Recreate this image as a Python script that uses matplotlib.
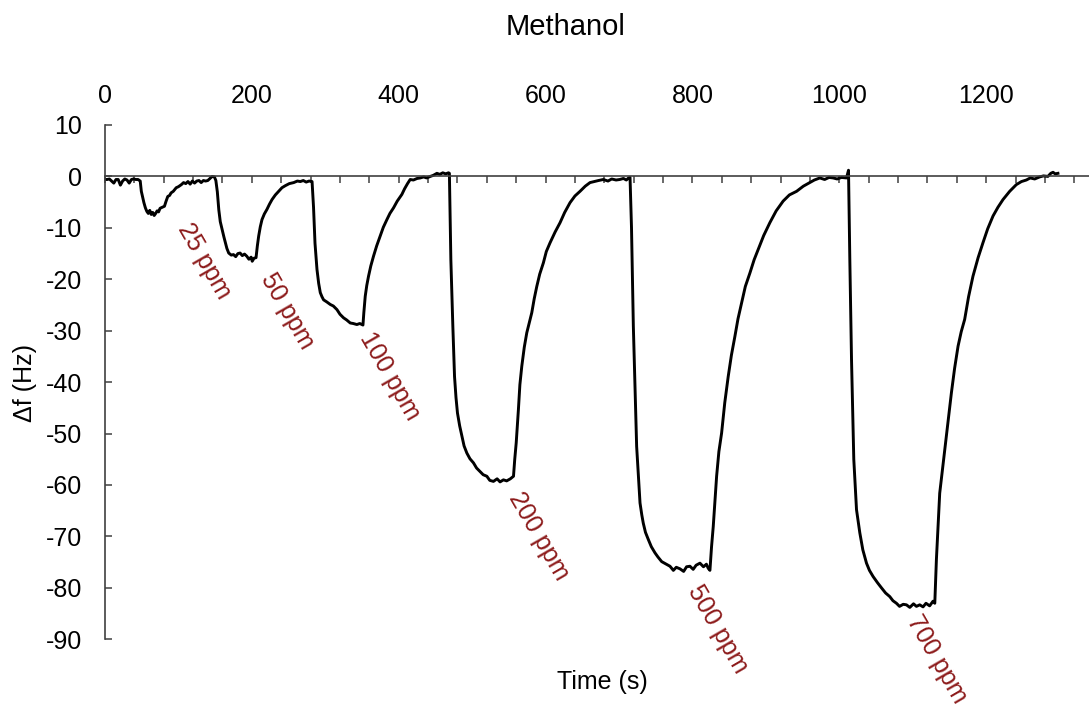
import matplotlib
matplotlib.use('Agg')
from matplotlib import pyplot as plt
from matplotlib.ticker import MultipleLocator

plt.rcParams['font.family'] = ['Liberation Sans', 'DejaVu Sans']
plt.rcParams['axes.unicode_minus'] = False

# QCM response to methanol pulses: time (s) and frequency shift (Hz)
time_s = [
    0, 3, 6, 9, 12, 15, 18, 21, 24, 27, 30, 33, 36, 39, 42, 45, 48,
    49.5, 53, 55, 57, 59, 61, 63, 65, 67, 69, 71, 73, 75, 78, 81, 83, 85.5,
    88, 90, 93, 97, 100, 104, 107, 110, 113, 116, 119, 122, 125, 128, 131,
    134, 137, 140, 143, 146, 149, 151,
    153, 155, 157, 159.5, 162, 164, 166, 168.5, 172, 175, 178, 181, 184, 187,
    190, 193, 196, 199, 200.5, 203, 205.7, 207.5, 209.3, 211.5, 213.8, 217,
    220.6, 224, 227.5, 232, 236.5, 241, 245.6, 251, 257, 262, 266, 270, 274,
    278, 282,
    284, 286, 288.7, 291, 293.2, 295.5, 297.7, 302, 306.8, 311, 315.9, 320,
    324.9, 329, 334, 338, 343, 347, 351.3, 352.5, 354.4, 356.5, 358.9, 362,
    365.7, 370, 374.8, 379, 383.9, 388, 393, 398, 404.3, 408, 412, 415.6, 420,
    425, 429.3, 434, 438, 443, 447, 452, 456, 460, 464, 467.8, 469,
    471, 473.7, 476, 478, 480, 483, 486, 489, 492.8, 497, 501.8, 506, 510.9,
    515, 520, 524, 529, 534, 538, 542.6, 547, 552, 556.3, 558, 560, 563, 565,
    567.6, 571, 574.4, 578, 581.2, 584.5, 588, 592, 597, 601, 606.1, 613,
    619.7, 626, 633.3, 640, 646.9, 654, 660.5, 666, 672, 678.6, 685, 690, 696,
    701, 706, 710, 713, 715,
    717, 719.5, 722, 724, 726.3, 728.6, 731, 733, 736, 739.9, 744, 749, 753,
    758.1, 763, 769.4, 774, 778, 783, 788, 792, 796.6, 801, 805, 810.2, 815,
    819, 821.5, 823.8,
    826, 828.3, 832.9, 836, 839.7, 844, 848.7, 853, 857.8, 862, 866.9, 872,
    878.2, 884, 889.5, 897, 905.4, 914, 923.5, 932, 941.8, 951, 959.9, 966,
    973.5, 980, 986, 991.6, 997, 1003, 1009.8, 1012.5,
    1014.3, 1016.6, 1019.7, 1023.4, 1027.9, 1032, 1037, 1041, 1046, 1052,
    1057.4, 1063, 1068.7, 1073, 1077.8, 1082, 1087, 1091.4, 1096, 1101, 1105,
    1109.5, 1114, 1118, 1123, 1127.6, 1130,
    1132.2, 1136.7, 1143.5, 1148, 1152.6, 1157, 1161.7, 1166, 1170.7, 1176,
    1182, 1189, 1195.6, 1202, 1209.3, 1216, 1222.9, 1232, 1241, 1248, 1254.7,
    1260, 1266, 1272.8, 1278, 1284, 1288, 1291, 1294, 1297.7,
]
shift_hz = [
    -0.6, -0.6, -0.5, -0.9, -1.3, -0.6, -0.6, -1.7, -0.9, -0.5, -0.7, -1.3,
    -0.6, -0.5, -0.6, -0.6, -0.9,
    -2.9, -5.1, -6.1, -6.8, -7.2, -6.6, -7.4, -7.0, -7.6, -7.2, -6.7, -6.9,
    -6.2, -6.0, -5.8, -4.9, -3.9, -3.7, -3.2, -2.9, -2.2, -2.0, -1.6, -1.2,
    -1.4, -1.0, -1.5, -0.9, -1.3, -0.9, -0.8, -1.2, -0.8, -0.9, -0.8, -0.4,
    0.0, -0.1, -0.8,
    -3.0, -6.5, -8.8, -10.3, -11.8, -12.9, -14.0, -14.9, -15.3, -15.2, -15.6,
    -15.0, -14.9, -15.4, -15.1, -15.5, -16.1, -15.7, -16.5, -15.9, -15.8,
    -13.5, -11.6, -9.8, -8.4, -7.3, -6.4, -5.4, -4.5, -3.6, -2.9, -2.2, -1.8,
    -1.4, -1.2, -0.9, -1.0, -0.8, -1.1, -0.9, -1.0,
    -6.0, -13.0, -18.1, -20.8, -22.6, -23.4, -24.0, -24.4, -24.9, -25.2,
    -25.9, -26.8, -27.5, -27.9, -28.5, -28.6, -28.8, -28.6, -28.9, -26.5,
    -23.3, -21.2, -19.4, -17.4, -15.5, -13.5, -11.6, -9.9, -8.4, -7.2, -6.1,
    -4.8, -3.5, -2.4, -1.4, -0.6, -0.7, -0.4, -0.3, -0.1, -0.3, 0.0, 0.2, 0.6,
    0.4, 0.7, 0.5, 0.7, 0.6,
    -16.2, -29.1, -38.9, -43.0, -46.0, -48.5, -50.5, -52.4, -53.8, -54.9,
    -55.7, -56.7, -57.4, -58.0, -58.3, -59.1, -59.3, -58.8, -59.4, -59.0,
    -59.2, -58.8, -58.3, -55.0, -51.8, -45.3, -40.5, -36.9, -33.2, -30.4,
    -28.3, -26.5, -23.8, -21.4, -19.0, -16.8, -14.6, -12.9, -10.8, -9.0, -7.0,
    -5.1, -3.8, -2.9, -1.9, -1.2, -1.0, -0.8, -0.6, -0.9, -0.5, -0.7, -0.6,
    -0.4, -0.7, -0.3, -0.2,
    -10.0, -29.1, -42.0, -52.5, -58.0, -63.5, -65.8, -67.4, -69.2, -70.6,
    -72.0, -73.2, -74.0, -74.9, -75.3, -75.8, -76.6, -76.0, -76.3, -76.8,
    -75.9, -75.8, -76.4, -75.6, -75.2, -75.9, -75.4, -76.2, -76.6,
    -72.0, -68.1, -58.3, -53.5, -49.9, -44.0, -38.9, -34.8, -31.1, -27.7,
    -24.6, -21.4, -18.8, -16.2, -14.2, -11.5, -9.0, -6.7, -4.8, -3.6, -2.9,
    -1.9, -1.2, -0.7, -0.3, -0.6, -0.2, -0.3, -0.5, -0.2, -0.3, 1.2,
    -16.2, -35.6, -55.0, -64.8, -69.3, -72.6, -75.2, -76.6, -77.8, -79.0,
    -80.0, -81.0, -81.7, -82.5, -83.0, -83.6, -83.2, -83.3, -83.8, -83.1,
    -83.6, -83.3, -83.7, -83.0, -83.5, -82.6, -83.0,
    -74.5, -61.6, -53.2, -47.5, -42.1, -37.3, -33.0, -30.2, -27.8, -23.4,
    -19.4, -15.8, -12.9, -10.2, -7.7, -6.0, -4.5, -2.9, -1.6, -1.0, -0.7,
    -0.3, -0.5, -0.1, 0.1, 0.0, 0.6, 0.8, 0.5, 0.6,
]

# concentration labels and where they sit (time, shift)
conc_labels = ['25 ppm', '50 ppm', '100 ppm', '200 ppm', '500 ppm', '700 ppm']
label_t = [107, 220, 354, 558, 801, 1100]
label_f = [-9.5, -19.2, -30.6, -61.7, -79.8, -85.7]

top_ticks = [0, 200, 400, 600, 800, 1000, 1200]

fig = plt.figure(figsize=(10.89, 7.15), dpi=100)
ax = fig.add_axes([0.0964, 0.1059, 0.9036, 0.7193])

ax.plot(time_s, shift_hz, color='black', linewidth=2.1)

ax.set_xlim(0, 1340)
ax.set_ylim(-90, 10)

# time axis runs along f = 0, its numbers sit above the plot
ax2 = ax.twiny()
ax2.set_xlim(ax.get_xlim())
ax2.set_xticks(top_ticks)
ax2.tick_params(axis='x', length=0, pad=12, labelsize=18)
for s in ax2.spines.values():
    s.set_visible(False)

ax.spines['top'].set_visible(False)
ax.spines['right'].set_visible(False)
ax.spines['bottom'].set_position(('data', 0))
ax.spines['bottom'].set_color('#404040')
ax.spines['left'].set_color('#404040')
ax.spines['bottom'].set_linewidth(1.2)
ax.spines['left'].set_linewidth(1.2)

ax.xaxis.set_major_locator(MultipleLocator(40))
ax.tick_params(axis='x', direction='out', length=5, width=1.1,
               color='#404040', labelbottom=False)
ax.yaxis.set_major_locator(MultipleLocator(10))
ax.tick_params(axis='y', direction='in', length=5, width=1.1,
               color='#404040', pad=16.5, labelsize=18)

for text, t, f in zip(conc_labels, label_t, label_f):
    ax.text(t, f, text, rotation=-60, rotation_mode='anchor',
            ha='left', va='center', fontsize=18, color='#8c1a1a')

fig.text(0.519, 0.962, 'Methanol', ha='center', va='center', fontsize=21)
fig.text(0.553, 0.0455, 'Time (s)', ha='center', va='center', fontsize=18)
fig.text(0.023, 0.465, '\u0394f (Hz)', ha='center', va='center',
         rotation=90, fontsize=18)

fig.savefig('out.png', dpi=100)
